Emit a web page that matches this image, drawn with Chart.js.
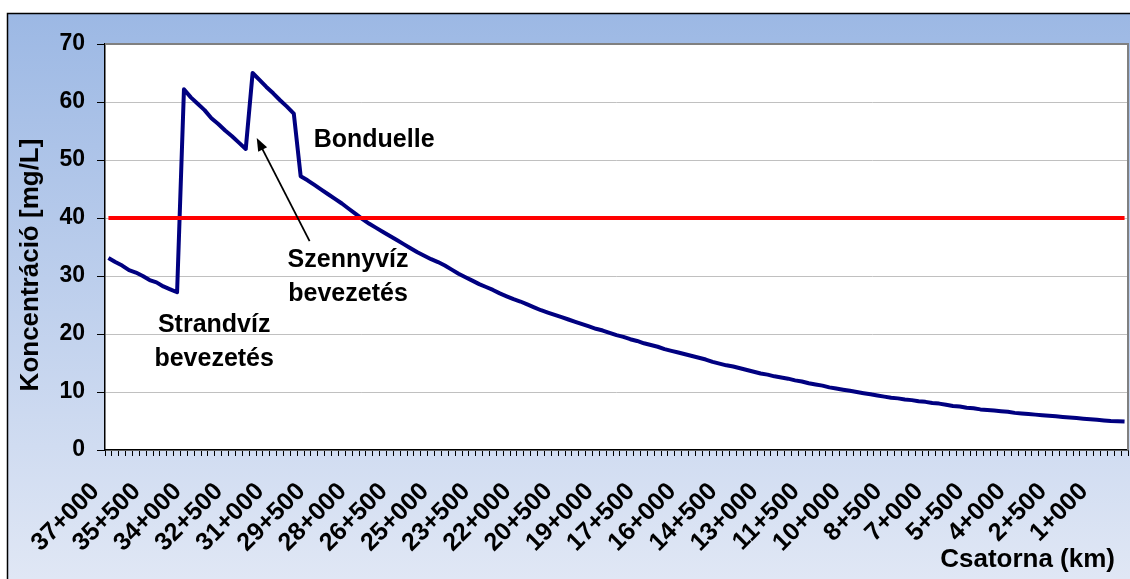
<!DOCTYPE html>
<html>
<head>
<meta charset="utf-8">
<script src="https://cdn.jsdelivr.net/npm/chart.js@4.4.0/dist/chart.umd.min.js"></script>
<style>
  html, body { margin: 0; padding: 0; background: #fff; }
  #wrap { width: 1130px; height: 579px; }
</style>
</head>
<body>
<div id="wrap"><canvas id="grafico" width="1130" height="579"></canvas></div>
<script>
const fonte = '"Liberation Sans", Arial, sans-serif';

// szelvények 250 m-enként, 37+000 -> 0+000
const stations = [];
for (let m = 37000; m >= 0; m -= 250) {
    stations.push(Math.floor(m / 1000) + "+" + String(m % 1000).padStart(3, "0"));
}

const tickLabels = ["37+000", "35+500", "34+000", "32+500", "31+000", "29+500", "28+000",
    "26+500", "25+000", "23+500", "22+000", "20+500", "19+000", "17+500", "16+000",
    "14+500", "13+000", "11+500", "10+000", "8+500", "7+000", "5+500", "4+000",
    "2+500", "1+000"];

// koncentráció [mg/L]
const concentration = [
    33.1, 32.4, 31.8, 31.0, 30.6, 30.0, 29.3, 28.9, 28.2, 27.7, 27.2,
    62.2, 60.8, 59.7, 58.6, 57.2, 56.2, 55.1, 54.1, 53.0, 51.9,
    65.0, 63.8, 62.6, 61.5, 60.3, 59.2, 58.0,
    47.2, 46.5, 45.7, 44.9, 44.1, 43.3, 42.5, 41.6, 40.7, 39.8,
    39.0, 38.3, 37.6, 36.9, 36.2, 35.5, 34.8, 34.1, 33.5, 32.9,
    32.4, 31.8, 31.1, 30.4, 29.8, 29.2, 28.6, 28.1, 27.6, 27.0,
    26.5, 26.0, 25.6, 25.1, 24.6, 24.1, 23.7, 23.3, 22.9, 22.5,
    22.1, 21.7, 21.3, 20.9, 20.6, 20.2, 19.8, 19.5, 19.1, 18.8,
    18.4, 18.1, 17.8, 17.4, 17.1, 16.8, 16.5, 16.2, 15.9, 15.6,
    15.2, 14.9, 14.6, 14.4, 14.1, 13.8, 13.5, 13.2, 13.0, 12.7,
    12.5, 12.3, 12.0, 11.8, 11.5, 11.3, 11.1, 10.8, 10.6, 10.4,
    10.2, 10.0, 9.8, 9.6, 9.4, 9.2, 9.0, 8.9, 8.7, 8.6,
    8.4, 8.3, 8.1, 8.0, 7.8, 7.6, 7.5, 7.3, 7.2, 7.0,
    6.9, 6.8, 6.7, 6.6, 6.4, 6.3, 6.2, 6.1, 6.0, 5.9,
    5.8, 5.7, 5.6, 5.5, 5.4, 5.3, 5.2, 5.1, 5.0, 4.95,
    4.9
];

const limitValue = 40;
const limitLine = stations.map(() => limitValue);

// feliratok (kategória index, érték)
const notes = [
    { lines: ["Bonduelle"], x: 29.9, y: 53.4, align: "left" },
    { lines: ["Szennyvíz", "bevezetés"], x: 34.9, y: 32.7, align: "center" },
    { lines: ["Strandvíz", "bevezetés"], x: 15.4, y: 21.6, align: "center" }
];
const arrow = { from: [29.3, 36.0], to: [21.6, 53.8] };

const yTitle = "Koncentráció [mg/L]";
const xTitle = "Csatorna (km)";

const hatter = {
    id: "hatter",
    beforeDraw(chart) {
        const { ctx, chartArea: a } = chart;
        ctx.save();
        ctx.fillStyle = "#fff";
        ctx.fillRect(0, 0, chart.width, chart.height);
        const g = ctx.createLinearGradient(0, 13, 0, chart.height);
        g.addColorStop(0, "#9CB8E4");
        g.addColorStop(1, "#E0E7F5");
        ctx.fillStyle = g;
        ctx.fillRect(7, 13, chart.width, chart.height);
        ctx.strokeStyle = "#000";
        ctx.lineWidth = 1.5;
        ctx.strokeRect(7.5, 13.5, chart.width + 10, chart.height + 10);
        ctx.fillStyle = "#fff";
        ctx.fillRect(a.left, a.top, a.right - a.left, a.bottom - a.top);
        ctx.restore();
    },
    beforeDatasetsDraw(chart) {
        const { ctx, chartArea: a } = chart;
        ctx.save();
        ctx.strokeStyle = "#808080";
        ctx.lineWidth = 2;
        ctx.beginPath();
        ctx.moveTo(a.left, a.top);
        ctx.lineTo(a.right, a.top);
        ctx.lineTo(a.right, a.bottom);
        ctx.stroke();
        ctx.restore();
    },
    afterDraw(chart) {
        const { ctx, chartArea: a } = chart;
        const xs = chart.scales.x, ys = chart.scales.y;
        ctx.save();
        ctx.fillStyle = "#000";
        ctx.font = "bold 25px " + fonte;
        ctx.textBaseline = "middle";
        notes.forEach(n => {
            ctx.textAlign = n.align;
            const px = xs.getPixelForValue(n.x);
            const py = ys.getPixelForValue(n.y);
            n.lines.forEach((t, i) => ctx.fillText(t, px, py + i * 34));
        });

        // nyíl
        const x1 = xs.getPixelForValue(arrow.from[0]), y1 = ys.getPixelForValue(arrow.from[1]);
        const x2 = xs.getPixelForValue(arrow.to[0]), y2 = ys.getPixelForValue(arrow.to[1]);
        const ang = Math.atan2(y2 - y1, x2 - x1);
        ctx.strokeStyle = "#000";
        ctx.lineWidth = 1.8;
        ctx.beginPath();
        ctx.moveTo(x1, y1);
        ctx.lineTo(x2 - 8 * Math.cos(ang), y2 - 8 * Math.sin(ang));
        ctx.stroke();
        ctx.beginPath();
        ctx.moveTo(x2, y2);
        ctx.lineTo(x2 - 13 * Math.cos(ang) + 5 * Math.sin(ang), y2 - 13 * Math.sin(ang) - 5 * Math.cos(ang));
        ctx.lineTo(x2 - 13 * Math.cos(ang) - 5 * Math.sin(ang), y2 - 13 * Math.sin(ang) + 5 * Math.cos(ang));
        ctx.closePath();
        ctx.fill();

        // tengelycímek
        ctx.font = "bold 26px " + fonte;
        ctx.textAlign = "right";
        ctx.textBaseline = "alphabetic";
        ctx.fillText(xTitle, a.right - 13, 567);
        ctx.translate(31, (a.top + a.bottom) / 2 + 18);
        ctx.rotate(-Math.PI / 2);
        ctx.textAlign = "center";
        ctx.textBaseline = "middle";
        ctx.fillText(yTitle, 0, 0);
        ctx.restore();
    }
};

new Chart(document.getElementById("grafico"), {
    type: "line",
    data: {
        labels: stations,
        datasets: [
            {
                data: limitLine,
                borderColor: "#FF0000",
                borderWidth: 4,
                pointRadius: 0,
                order: 0
            },
            {
                data: concentration,
                borderColor: "#000080",
                borderWidth: 4,
                borderJoinStyle: "round",
                pointRadius: 0,
                tension: 0,
                order: 1
            }
        ]
    },
    options: {
        responsive: false,
        animation: false,
        devicePixelRatio: 1,
        layout: { padding: { left: 0, top: 44, right: 2, bottom: 0 } },
        plugins: { legend: { display: false }, tooltip: { enabled: false } },
        scales: {
            x: {
                offset: true,
                grid: { offset: true, drawOnChartArea: false, drawTicks: true, tickLength: 6, color: "#000", tickColor: "#000" },
                border: { color: "#000", width: 1.5 },
                ticks: {
                    autoSkip: false,
                    maxRotation: 45,
                    minRotation: 45,
                    labelOffset: -13,
                    padding: 21,
                    color: "#000",
                    font: { family: fonte, size: 25, weight: "bold" },
                    callback: function (v) {
                        const l = this.getLabelForValue(v);
                        return tickLabels.includes(l) ? l : "";
                    }
                },
                afterFit: s => {
                    s.height = 129;
                    s.paddingLeft = 0;
                    s.paddingRight = 0;
                }
            },
            y: {
                min: 0,
                max: 70,
                ticks: { stepSize: 10, padding: 12, color: "#000", font: { family: fonte, size: 23, weight: "bold" } },
                grid: { color: "#C0C0C0", tickColor: "#000", tickLength: 8 },
                border: { color: "#000", width: 1.5 },
                afterFit: s => {
                    s.width = 105;
                    s.paddingTop = 0;
                    s.paddingBottom = 0;
                }
            }
        }
    },
    plugins: [hatter]
});
</script>
</body>
</html>
